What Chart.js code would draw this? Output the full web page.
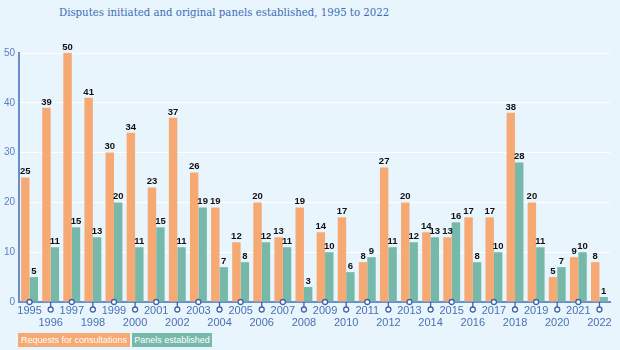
<!DOCTYPE html>
<html>
<head>
<meta charset="utf-8">
<script src="https://cdn.jsdelivr.net/npm/chart.js@4/dist/chart.umd.min.js"></script>
<style>
  html, body { margin: 0; padding: 0; background: #e9f5fd; }
  #wrap { position: relative; width: 620px; height: 350px; background: #e9f5fd; overflow: hidden; }
  #title { position: absolute; left: 59px; top: 6px; font-family: "DejaVu Serif Condensed", "DejaVu Serif", serif; font-size: 11.3px; color: #3b6db4; white-space: nowrap; }
  .leg { position: absolute; top: 333px; height: 14px; line-height: 14px; font-family: "Liberation Sans", Arial, sans-serif; font-size: 9px; color: #ffffff; padding: 0; box-sizing: border-box; white-space: nowrap; text-align: center; }
  #l1 { left: 18px; width: 112px; background: #f6a973; }
  #l2 { left: 132px; width: 80px; background: #76b9aa; }
  canvas { position: absolute; left: 0; top: 0; }
</style>
</head>
<body>
<div id="wrap">
  <div id="title">Disputes initiated and original panels established, 1995 to 2022</div>
  <canvas id="c" width="620" height="350"></canvas>
  <div class="leg" id="l1">Requests for consultations</div>
  <div class="leg" id="l2">Panels established</div>
</div>
<script>
const years = ["1995","1996","1997","1998","1999","2000","2001","2002","2003","2004","2005","2006","2007","2008","2009","2010","2011","2012","2013","2014","2015","2016","2017","2018","2019","2020","2021","2022"];
const requests = [25,39,50,41,30,34,23,37,26,19,12,20,13,19,14,17,8,27,20,14,13,17,17,38,20,5,9,8];
const panels = [5,11,15,13,20,11,15,11,19,7,8,12,11,3,10,6,9,11,12,13,16,8,10,28,11,7,10,1];
const yTicks = [0,10,20,30,40,50];

const AXIS = '#6a8dcc';
const TICKTXT = '#4a70b4';

const labelPlugin = {
  id: 'vals',
  afterDatasetsDraw(chart) {
    const ctx = chart.ctx;
    ctx.save();
    ctx.font = 'bold 9.5px "Liberation Sans", Arial, sans-serif';
    ctx.textAlign = 'center';
    ctx.textBaseline = 'bottom';
    ctx.fillStyle = '#111111';
    chart.data.datasets.forEach((ds, di) => {
      const meta = chart.getDatasetMeta(di);
      meta.data.forEach((bar, i) => {
        ctx.fillText(String(ds.data[i]), bar.x, bar.y - 1);
      });
    });
    ctx.restore();
  }
};

const tickPlugin = {
  id: 'tickMarks',
  afterDraw(chart) {
    const ctx = chart.ctx;
    const xs = chart.scales.x;
    const y0 = chart.scales.y.bottom;
    ctx.save();
    ctx.strokeStyle = '#3f64a6';
    ctx.lineWidth = 1.3;
    years.forEach((y, i) => {
      const x = xs.getPixelForTick(i);
      let cy = y0;
      if (i % 2 === 1) {
        ctx.beginPath();
        ctx.moveTo(x, y0);
        ctx.lineTo(x, y0 + 5);
        ctx.stroke();
        cy = y0 + 7.5;
      }
      ctx.beginPath();
      ctx.arc(x, cy, 2.5, 0, Math.PI * 2);
      ctx.fillStyle = '#ffffff';
      ctx.fill();
      ctx.stroke();
    });
    ctx.restore();
  }
};

new Chart(document.getElementById('c'), {
  type: 'bar',
  data: {
    labels: years.map((y, i) => i % 2 === 1 ? ['', y] : y),
    datasets: [
      { label: 'Requests for consultations', data: requests, backgroundColor: '#f6a973' },
      { label: 'Panels established', data: panels, backgroundColor: '#76b9aa' }
    ]
  },
  options: {
    responsive: false,
    animation: false,
    devicePixelRatio: 1,
    layout: { padding: { top: 53, right: 10, left: 0, bottom: 0 } },
    plugins: { legend: { display: false }, tooltip: { enabled: false }, title: { display: false } },
    datasets: { bar: { categoryPercentage: 0.8, barPercentage: 1.0 } },
    scales: {
      x: {
        grid: { display: false, drawTicks: false },
        border: { display: true, color: AXIS, width: 2 },
        ticks: {
          autoSkip: false, maxRotation: 0, minRotation: 0, padding: 3,
          color: TICKTXT,
          font: { family: '"Liberation Sans", Arial, sans-serif', size: 11, lineHeight: 1.1 }
        },
        afterFit(s) { s.height = 48; }
      },
      y: {
        min: 0, max: 50,
        afterBuildTicks(s) { s.ticks = yTicks.map(v => ({ value: v })); },
        grid: { color: '#ffffff', lineWidth: 1, drawTicks: false },
        border: { display: true, color: AXIS, width: 2 },
        ticks: {
          padding: 4, color: '#5a7fc0',
          font: { family: '"Liberation Sans", Arial, sans-serif', size: 10 }
        },
        afterFit(s) { s.width = 19; }
      }
    }
  },
  plugins: [labelPlugin, tickPlugin]
});
</script>
</body>
</html>
